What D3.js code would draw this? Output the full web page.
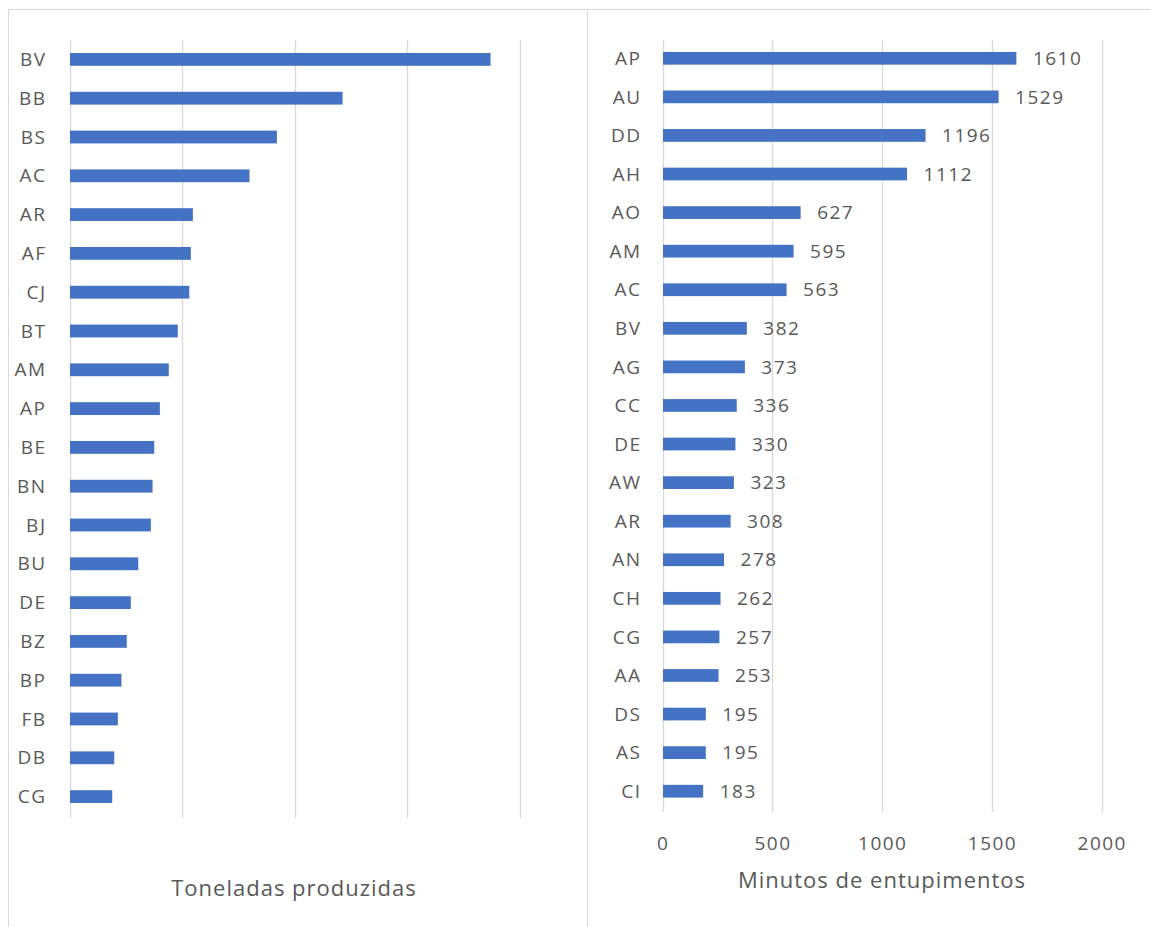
<!DOCTYPE html>
<html>
<head>
<meta charset="utf-8">
<script src="https://cdn.jsdelivr.net/npm/d3@7"></script>
<style>
  html, body { margin: 0; padding: 0; background: #ffffff; }
  svg { display: block; }
  text { font-family: "Open Sans", "Noto Sans", sans-serif; fill: #595959; }
</style>
</head>
<body>
<svg id="chart" width="1151" height="927"></svg>
<script>
// ---- Data: left panel (Toneladas produzidas, no tick labels shown) ----
const leftCategories = ["BV","BB","BS","AC","AR","AF","CJ","BT","AM","AP","BE","BN","BJ","BU","DE","BZ","BP","FB","DB","CG"];
const leftValues = [3734,2420,1837,1594,1091,1073,1059,957,877,798,748,733,718,606,540,504,457,425,393,375];
const leftTicks = [0,1000,2000,3000,4000];
const leftTitle = "Toneladas produzidas";

// ---- Data: right panel (Minutos de entupimentos) ----
const rightCategories = ["AP","AU","DD","AH","AO","AM","AC","BV","AG","CC","DE","AW","AR","AN","CH","CG","AA","DS","AS","CI"];
const rightValues = [1610,1529,1196,1112,627,595,563,382,373,336,330,323,308,278,262,257,253,195,195,183];
const rightTicks = [0,500,1000,1500,2000];
const rightTitle = "Minutos de entupimentos";

const svg = d3.select("#chart");
const barColor = "#4472C4";
const gridColor = "#d9d9d9";

// panel borders
svg.append("rect").attr("x", 8.5).attr("y", 9.5).attr("width", 579).attr("height", 940)
  .attr("fill", "none").attr("stroke", gridColor).attr("stroke-width", 1);
svg.append("rect").attr("x", 587.5).attr("y", 9.5).attr("width", 600).attr("height", 940)
  .attr("fill", "none").attr("stroke", gridColor).attr("stroke-width", 1);

const LS = 1.5; // letter spacing for labels

function panel(cfg) {
  const g = svg.append("g");
  const x = d3.scaleLinear().domain([0, cfg.ticks[cfg.ticks.length - 1]]).range([cfg.x0, cfg.x1]);
  const y = d3.scaleBand().domain(cfg.categories).range([cfg.y0, cfg.y1])
    .paddingInner(0.67).paddingOuter(0.335);

  // gridlines
  g.append("g").selectAll("line").data(cfg.ticks).join("line")
    .attr("x1", d => Math.round(x(d)) + 0.5).attr("x2", d => Math.round(x(d)) + 0.5)
    .attr("y1", cfg.gridTop).attr("y2", cfg.gridBottom)
    .attr("stroke", gridColor).attr("stroke-width", 1.3);

  // bars
  g.append("g").selectAll("rect").data(cfg.values).join("rect")
    .attr("x", x(0) + 0.5)
    .attr("y", (d, i) => y(cfg.categories[i]))
    .attr("width", d => x(d) - x(0))
    .attr("height", y.bandwidth())
    .attr("fill", barColor);

  // category labels
  g.append("g").selectAll("text").data(cfg.categories).join("text")
    .attr("x", cfg.labelX + LS)
    .attr("y", d => y(d) + y.bandwidth() / 2)
    .attr("dy", "0.35em")
    .attr("text-anchor", "end")
    .style("font-size", "19px")
    .style("letter-spacing", LS + "px")
    .text(d => d);

  // data labels
  if (cfg.showValues) {
    g.append("g").selectAll("text").data(cfg.values).join("text")
      .attr("x", d => x(d) + 17)
      .attr("y", (d, i) => y(cfg.categories[i]) + y.bandwidth() / 2)
      .attr("dy", "0.35em")
      .style("font-size", "19px")
      .style("letter-spacing", LS + "px")
      .text(d => d);
  }

  // tick labels
  if (cfg.showTicks) {
    g.append("g").selectAll("text").data(cfg.ticks).join("text")
      .attr("x", d => x(d) + LS / 2)
      .attr("y", cfg.tickY)
      .attr("dy", "0.35em")
      .attr("text-anchor", "middle")
      .style("font-size", "19px")
      .style("letter-spacing", LS + "px")
      .text(d => d);
  }

  // axis title
  g.append("text")
    .attr("x", cfg.titleX).attr("y", cfg.titleY)
    .attr("dy", "0.35em")
    .attr("text-anchor", "middle")
    .style("font-size", "22px")
    .style("letter-spacing", "1px")
    .text(cfg.title);
}

panel({
  categories: leftCategories, values: leftValues, ticks: leftTicks, title: leftTitle,
  x0: 69.5, x1: 520, y0: 40, y1: 816, gridTop: 40, gridBottom: 818,
  labelX: 45, showValues: false, showTicks: false,
  titleX: 294, titleY: 888
});

panel({
  categories: rightCategories, values: rightValues, ticks: rightTicks, title: rightTitle,
  x0: 662.5, x1: 1101.5, y0: 39, y1: 810.5, gridTop: 40, gridBottom: 812,
  labelX: 640, showValues: true, showTicks: true, tickY: 843,
  titleX: 882, titleY: 880
});
</script>
</body>
</html>
